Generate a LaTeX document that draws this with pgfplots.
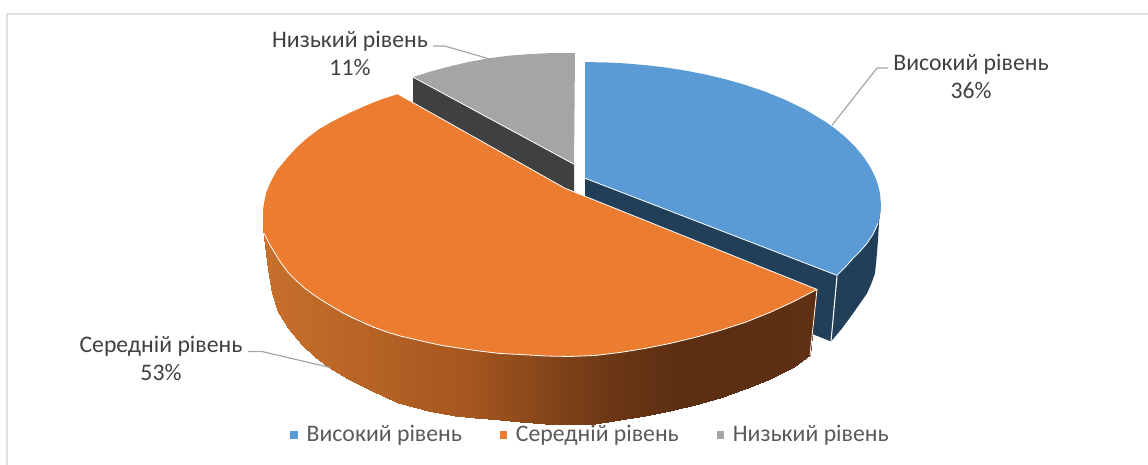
\documentclass[border=0pt]{standalone}
\usepackage{pgfplots}
\pgfplotsset{compat=1.18}
\usepackage{fontspec}
\setmainfont{Carlito}
\definecolor{cBlue}{HTML}{5B9BD5}
\definecolor{cBlueD}{HTML}{223F59}
\definecolor{cOrange}{HTML}{EB7C30}
\definecolor{cGray}{HTML}{A5A5A5}
\definecolor{cGrayD}{HTML}{404040}
\definecolor{cLead}{HTML}{A6A6A6}
\definecolor{cBorder}{HTML}{E0E0E0}
\definecolor{cLabel}{HTML}{404040}
\definecolor{cLegend}{HTML}{595959}
\tikzset{lbl/.style={font=\fontsize{17.8}{21}\selectfont, text=cLabel, align=center, inner sep=0pt}}
\begin{document}
\begin{tikzpicture}
\begin{axis}[
  scale only axis, width=861pt, height=348pt,
  xmin=0, xmax=1148, ymin=0, ymax=464, y dir=reverse,
  hide axis, clip=false,
  colormap={os}{rgb255(0cm)=(200,112,44); rgb255(37.4cm)=(165,86,31); rgb255(53.6cm)=(126,66,24); rgb255(64cm)=(106,54,20); rgb255(75.2cm)=(92,46,18); rgb255(100cm)=(95,48,19)},
  point meta min=263, point meta max=817,
  legend style={at={(axis cs:591,434)}, anchor=center, draw=none, fill=none,
    font=\fontsize{17.8}{20}\selectfont, text=cLegend, legend columns=3,
    /tikz/every even column/.append style={column sep=26.5pt},
    /tikz/every odd column/.append style={column sep=5pt}},
  legend cell align=left,
]
\path[use as bounding box] (axis cs:0,0) rectangle (axis cs:1148,464);
% chart frame
\addplot[cBorder, line width=1.3pt, forget plot] coordinates {(7,464) (7,14) (1148,14)};
% gray slice side
\addplot[fill=cGrayD, draw=none, forget plot] coordinates {(413,77) (574,164) (574,191) (565,188) (413,103)};
% blue inner face
\addplot[fill=cBlueD, draw=none, forget plot] coordinates {(585,178) (837,275) (831,341) (585,243)};
% blue outer face
\addplot[fill=cBlueD, draw=none, forget plot] coordinates {(837,275) (853,258) (867,243) (878,223) (881,205) (879,222) (878,240) (876.5,258) (875,273) (871,284) (867,293) (860,303) (853,313) (842,328) (831,341)};
% orange outer face
\addplot[surf, shader=interp, mesh/rows=2, point meta=x, forget plot] table[row sep=\\] {
x y\\
263 217\\ 264 233\\ 268 240\\ 272 248\\ 278 257\\ 288 272\\ 302 286\\ 315 295\\ 328 304\\ 348 316\\ 372 327\\ 398 335\\ 428 342\\ 455 347\\ 475 350\\ 500 353\\ 520 354\\ 545 355.5\\ 570 356\\ 595 355\\ 620 352\\ 645 348\\ 670 343\\ 695 337\\ 720 330\\ 745 322\\ 770 312\\ 794 301\\ 817 289\\
263 228\\ 264 238\\ 268 270\\ 272 293\\ 278 312\\ 288 328\\ 302 345\\ 315 357\\ 328 366\\ 348 378\\ 372 390\\ 398 402\\ 428 410\\ 455 415\\ 475 417\\ 500 419\\ 520 421\\ 545 423\\ 570 424\\ 595 423\\ 620 419.5\\ 645 415\\ 670 410\\ 695 404\\ 720 397\\ 745 388\\ 770 378\\ 794 366\\ 810 355\\
};
% orange top
\addplot[fill=cOrange, draw=none, forget plot] coordinates {(398,94) (565,188) (817,289) (794,301) (770,312) (745,322) (720,330) (695,337) (670,343) (645,348) (620,352) (595,355) (570,356) (545,355.5) (520,354) (500,353) (475,350) (455,347) (442,345) (428,342) (415,339) (400,335.5) (388,332) (376,327.5) (365,323) (353,317.5) (342,312) (332,306) (322,300) (313,294) (305,288) (296,280) (288,272) (281,262.5) (275,253) (269,243) (264,233) (263,225) (263,217) (263,210) (264,203) (266,193) (270,183) (277,170) (287,158) (296,148) (307,138) (319,129) (333,121) (349,113) (367,105) (382,99)};
% gray top
\addplot[fill=cGray, draw=none, forget plot] coordinates {(575,53) (574,164) (413,77) (430,71.5) (447,67) (468,62) (490,58) (510,55.5) (530,54) (552,53)};
% blue top
\addplot[fill=cBlue, draw=none, forget plot] coordinates {(585,62) (605,62.3) (625,63.3) (645,65) (665,67.3) (685,70.4) (705,74.3) (725,79) (745,84.7) (765,91.5) (785,99.6) (805,109.3) (825,121.3) (835,128.4) (845,136.6) (855,146.4) (863,156) (870,166.4) (875,176.3) (878,184.6) (880,193) (881,205) (880.5,212) (878,223) (873,234) (867,243) (860,251) (853,258) (845,267) (837,275) (585,178)};
% light bevels
\addplot[white, line width=0.6pt, forget plot] coordinates {(264,233) (269,243) (275,253) (281,262.5) (288,272) (296,280) (305,288) (313,294) (322,300) (332,306) (342,312) (353,317.5) (365,323) (376,327.5) (388,332) (400,335.5) (415,339) (428,342) (442,345) (455,347) (475,350) (500,353) (520,354) (545,355.5) (570,356) (595,355) (620,352) (645,348) (670,343) (695,337) (720,330) (745,322) (770,312) (794,301) (817,289) (810,355)};
\addplot[white, line width=0.6pt, forget plot] coordinates {(585,178) (837,275) (845,267) (853,258) (860,251) (867,243) (873,234) (878,223)};
\addplot[white, line width=0.8pt, forget plot] coordinates {(837,276) (831,341)};
\addplot[white, line width=0.6pt, forget plot] coordinates {(413,77) (574,164)};
\addplot[white, line width=0.6pt, forget plot] coordinates {(398,94) (565,188) (817,289)};
% leader lines
\addplot[cLead, line width=0.9pt, forget plot] coordinates {(832,125) (877,68) (888,68)};
\addplot[cLead, line width=0.9pt, forget plot] coordinates {(433,46) (445,46) (490,59)};
\addplot[cLead, line width=0.9pt, forget plot] coordinates {(248,351) (262,351) (330,367)};
% labels
\node[lbl] at (axis cs:971,76) {Високий рівень\\36\%};
\node[lbl] at (axis cs:350,53) {Низький рівень\\11\%};
\node[lbl] at (axis cs:161,358) {Середній рівень\\53\%};
% legend
\addlegendimage{only marks, mark=square*, mark size=2.5pt, color=cBlue}
\addlegendentry{Високий рівень}
\addlegendimage{only marks, mark=square*, mark size=2.5pt, color=cOrange}
\addlegendentry{Середній рівень}
\addlegendimage{only marks, mark=square*, mark size=2.5pt, color=cGray}
\addlegendentry{Низький рівень}
\end{axis}
\end{tikzpicture}
\end{document}
